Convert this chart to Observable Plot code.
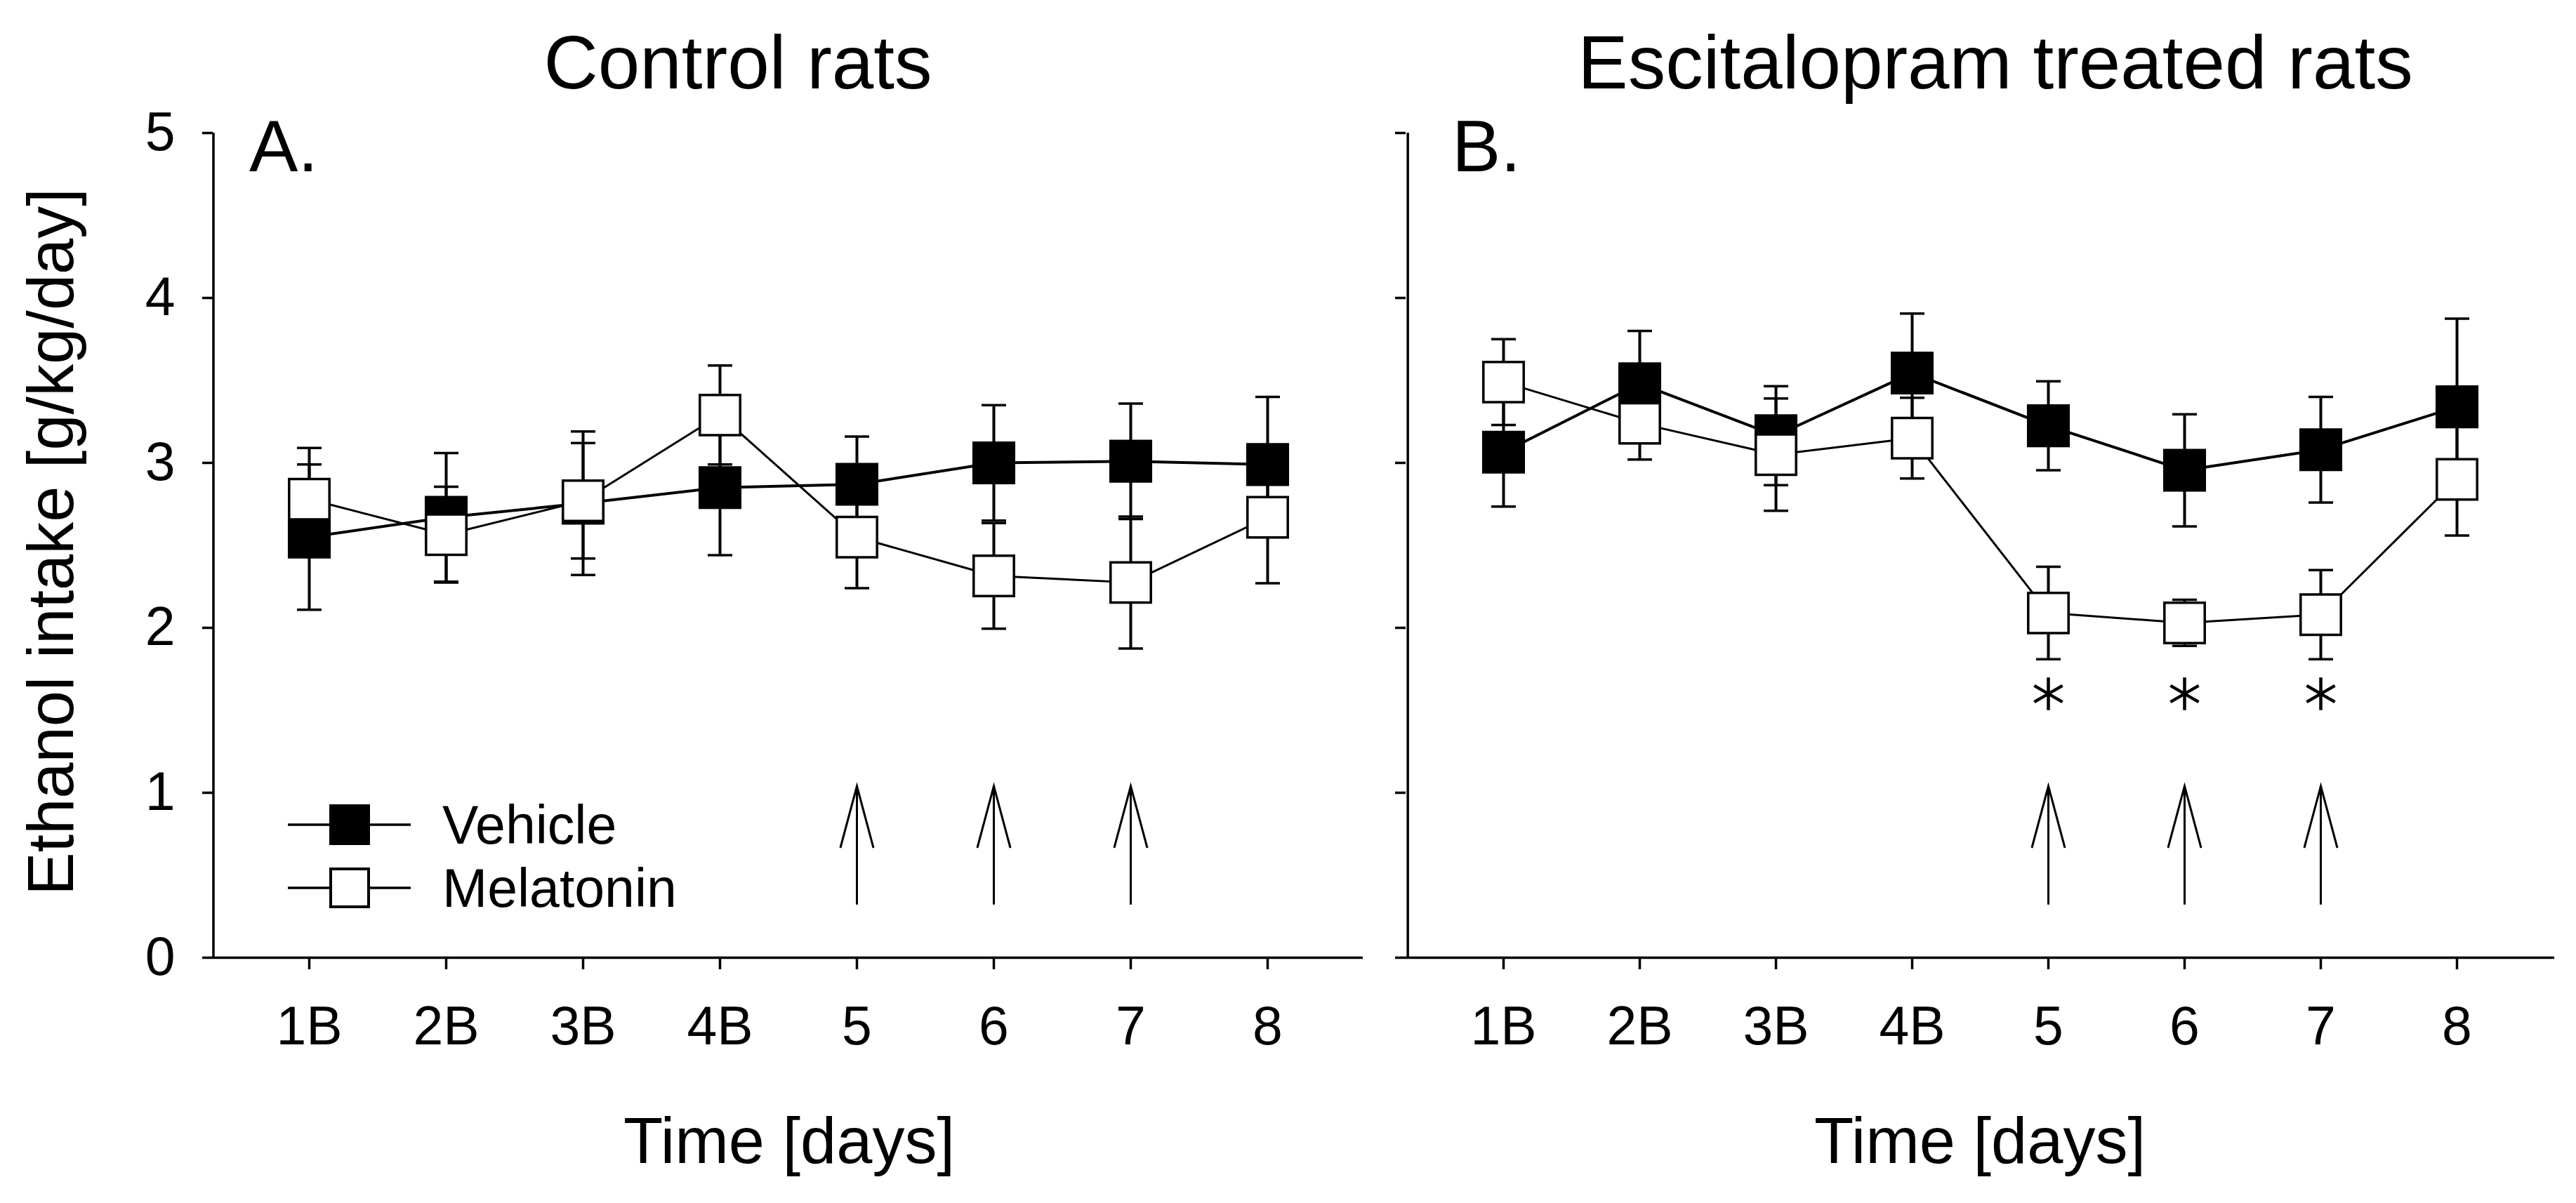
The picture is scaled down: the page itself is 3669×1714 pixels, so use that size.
<!DOCTYPE html>
<html><head><meta charset="utf-8">
<script src="https://cdn.jsdelivr.net/npm/d3@7"></script>
<script src="https://cdn.jsdelivr.net/npm/@observablehq/plot@0.6"></script>
<style>
html,body{margin:0;padding:0;background:#fff;}
#fig{position:relative;width:3669px;height:1714px;overflow:hidden;background:#fff;}
#fig > svg{position:absolute;top:0;}
</style></head><body><div id="fig"></div>
<script>
// ---- data ----
const days = ["1B","2B","3B","4B","5","6","7","8"];
const yTicks = [0,1,2,3,4,5];
const ctrlVehicle   = [2.55, 2.67, 2.755, 2.85, 2.87, 3.00, 3.01, 2.99];
const ctrlVehicleSE = [0.44, 0.39, 0.435, 0.41, 0.29, 0.35, 0.35, 0.41];
const ctrlMel       = [2.78, 2.565, 2.77, 3.29, 2.55, 2.315, 2.275, 2.67];
const ctrlMelSE     = [0.31, 0.29, 0.35, 0.30, 0.31, 0.32, 0.40, 0.40];
const escVehicle    = [3.065, 3.48, 3.165, 3.545, 3.225, 2.955, 3.08, 3.34];
const escVehicleSE  = [0.33, 0.32, 0.30, 0.36, 0.27, 0.34, 0.32, 0.535];
const escMel        = [3.49, 3.24, 3.05, 3.15, 2.09, 2.03, 2.08, 2.90];
const escMelSE      = [0.26, 0.22, 0.34, 0.245, 0.28, 0.14, 0.27, 0.34];
const arrowDays = ["5","6","7"];
const arrowTip = [1.04, 1.04, 1.04];
const arrowTail = [0.32, 0.32, 0.32];
const starDays = ["5","6","7"];
const starY = [1.6, 1.6, 1.6];
const panelTitles = ["Control rats", "Escitalopram treated rats"];
const panelLetters = ["A.", "B."];
const xLabel = "Time [days]";
const yLabel = "Ethanol intake [g/kg/day]";
const seriesNames = ["Vehicle", "Melatonin"];

const FONT = '"Liberation Sans", Arial, Helvetica, sans-serif';
const X_PAD = 0.7;

const capSymbol = {draw(ctx, size){const r=Math.sqrt(size/Math.PI); ctx.moveTo(-r,0); ctx.lineTo(r,0);}};
const headSymbol = {draw(ctx, size){const L=Math.sqrt(size/Math.PI), a=15*Math.PI/180;
  ctx.moveTo(-L*Math.sin(a), L*Math.cos(a)); ctx.lineTo(0,0); ctx.lineTo(L*Math.sin(a), L*Math.cos(a));}};

function rows(vals, se){ return days.map((d,i)=>({day:d, v:vals[i], lo:vals[i]-se[i], hi:vals[i]+se[i]})); }

function panel({veh, vehSE, mel, melSE, showYLabels, stars, width, marginLeft, marginRight}){
  const V = rows(veh, vehSE), M = rows(mel, melSE);
  const arrows = arrowDays.map((d,i)=>({day:d, tip:arrowTip[i], tail:arrowTail[i]}));
  const starData = stars ? starDays.map((d,i)=>({day:d, y:starY[i]})) : [];
  const hasAxisMarks = typeof Plot.axisX === "function";
  const fmt = showYLabels ? (d => String(d)) : (() => "");
  const step = (width - marginLeft - marginRight) / (days.length - 1 + 2 * X_PAD);
  const axisMarks = hasAxisMarks ? [
    Plot.axisY({ticks: yTicks, tickSize: 15, tickPadding: 39, strokeWidth: 3.5, tickFormat: fmt, label: null}),
    Plot.axisX({tickSize: 17, tickPadding: 52, strokeWidth: 3.5, label: null})
  ] : [];
  const errMarks = (D) => [
    Plot.ruleX(D, {x:"day", y1:"lo", y2:"hi", stroke:"black", strokeWidth:4}),
    Plot.dot(D, {x:"day", y:"lo", symbol:capSymbol, r:17.5, stroke:"black", strokeWidth:3.5, fill:"none"}),
    Plot.dot(D, {x:"day", y:"hi", symbol:capSymbol, r:17.5, stroke:"black", strokeWidth:3.5, fill:"none"})
  ];
  return Plot.plot({
    width, height: 1714, marginLeft, marginRight, marginTop: 189, marginBottom: 350,
    style: {fontFamily: FONT, fontSize: "77px", color: "black", background: "white", overflow: "visible"},
    x: {type: "point", domain: days, padding: X_PAD, label: null, tickSize: 17, tickPadding: 52},
    y: {domain: [0,5], ticks: yTicks, tickSize: 15, tickPadding: 39, label: null, tickFormat: fmt},
    marks: [
      ...axisMarks,
      Plot.ruleY([0], {stroke: "black", strokeWidth: 3.5}),
      Plot.ruleX([days[0]], {dx: -X_PAD * step, stroke: "black", strokeWidth: 3.5}),
      Plot.ruleX(arrows, {x:"day", y1:"tail", y2:"tip", stroke:"black", strokeWidth:3}),
      Plot.dot(arrows, {x:"day", y:"tip", symbol:headSymbol, r:91, stroke:"black", strokeWidth:3, fill:"none"}),
      Plot.dot(starData, {x:"day", y:"y", symbol:"asterisk", r:22, stroke:"black", strokeWidth:4.5}),
      ...errMarks(V),
      Plot.line(V, {x:"day", y:"v", stroke:"black", strokeWidth:4}),
      Plot.dot(V, {x:"day", y:"v", symbol:"square", r:32.2, fill:"black", stroke:"black", strokeWidth:4}),
      ...errMarks(M),
      Plot.line(M, {x:"day", y:"v", stroke:"black", strokeWidth:3}),
      Plot.dot(M, {x:"day", y:"v", symbol:"square", r:32.4, fill:"white", stroke:"black", strokeWidth:3.5})
    ]
  });
}

const fig = document.getElementById("fig");
const left = panel({veh: ctrlVehicle, vehSE: ctrlVehicleSE, mel: ctrlMel, melSE: ctrlMelSE,
  showYLabels: true, stars: false, width: 1960, marginLeft: 303, marginRight: 19});
left.style.left = "0px";
fig.appendChild(left);
const right = panel({veh: escVehicle, vehSE: escVehicleSE, mel: escMel, melSE: escMelSE,
  showYLabels: false, stars: true, width: 1709, marginLeft: 42, marginRight: 31});
right.style.left = "1960px";
fig.appendChild(right);

// ---- overlay: titles, labels, legend ----
const NS = "http://www.w3.org/2000/svg";
const ov = document.createElementNS(NS, "svg");
ov.setAttribute("width", 3669); ov.setAttribute("height", 1714);
ov.style.cssText = "position:absolute;left:0;top:0;pointer-events:none;";
ov.setAttribute("font-family", FONT);
function txt(s, x, y, size, anchor, extra){
  const t = document.createElementNS(NS, "text");
  t.textContent = s; t.setAttribute("x", x); t.setAttribute("y", y);
  t.setAttribute("font-size", size); t.setAttribute("text-anchor", anchor || "start");
  t.setAttribute("fill", "black");
  if (extra) for (const k in extra) t.setAttribute(k, extra[k]);
  ov.appendChild(t); return t;
}
txt(panelTitles[0], 1051, 126, 107, "middle");
txt(panelTitles[1], 2842, 126, 107, "middle");
txt(panelLetters[0], 355, 244, 104, "start");
txt(panelLetters[1], 2068, 244, 104, "start");
txt(xLabel, 1124, 1657, 92, "middle");
txt(xLabel, 2820, 1657, 92, "middle");
txt(yLabel, 0, 0, 92, "middle", {transform: "translate(104,772) rotate(-90)"});
// legend
const legY = [1175, 1265];
legY.forEach((y, i) => {
  const l = document.createElementNS(NS, "line");
  l.setAttribute("x1", 410); l.setAttribute("x2", 585); l.setAttribute("y1", y); l.setAttribute("y2", y);
  l.setAttribute("stroke", "black"); l.setAttribute("stroke-width", 3.5); ov.appendChild(l);
  const r = document.createElementNS(NS, "rect");
  r.setAttribute("x", 498-27); r.setAttribute("y", y-27); r.setAttribute("width", 54); r.setAttribute("height", 54);
  r.setAttribute("fill", i === 0 ? "black" : "white"); r.setAttribute("stroke", "black"); r.setAttribute("stroke-width", 4);
  ov.appendChild(r);
  txt(seriesNames[i], 630, y + 27, 77, "start");
});
fig.appendChild(ov);
</script></body></html>
